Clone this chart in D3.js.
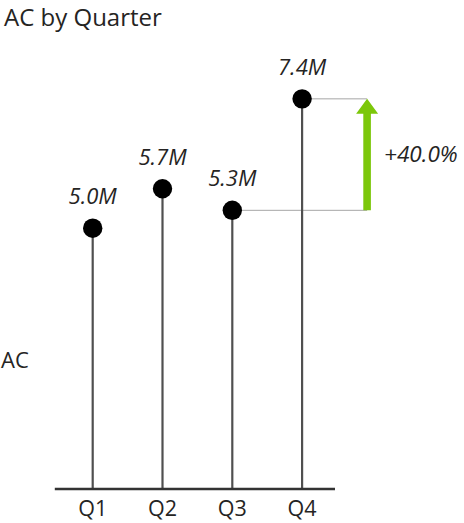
<!DOCTYPE html>
<html>
<head>
<meta charset="utf-8">
<script src="https://cdn.jsdelivr.net/npm/d3@7"></script>
<style>
    body { margin: 0; background: #fff; }
    svg { display: block; font-family: "Open Sans", "Noto Sans", sans-serif; }
</style>
</head>
<body>
<div id="chart"></div>
<script>
// chart data
const quarters = ['Q1', 'Q2', 'Q3', 'Q4'];
const acValues = [4.96, 5.71, 5.30, 7.42]; // in millions
const titleText = 'AC by Quarter';
const seriesName = 'AC';

const width = 464, height = 523;
const baseY = 489;

const svg = d3.select('#chart')
    .append('svg')
    .attr('width', width)
    .attr('height', height);

// X scale - one band per quarter
const xScale = d3.scaleBand()
    .domain(quarters)
    .range([57.8, 337]);

// Y scale - values in millions
const yScale = d3.scaleLinear()
    .domain([0, 9.3])
    .range([baseY, 0]);

const data = quarters.map((q, i) => ({ key: q, value: acValues[i] }));
const cx = d => xScale(d.key) + xScale.bandwidth() / 2;

// title
svg.append('text')
    .attr('x', 4)
    .attr('y', 26)
    .attr('font-size', 24)
    .attr('fill', '#252423')
    .text(titleText);

// series label on the left
svg.append('text')
    .attr('x', 1)
    .attr('y', 368)
    .attr('font-size', 22)
    .attr('fill', '#252423')
    .text(seriesName);

// variance between Q3 and Q4
const from = data[2], to = data[3];
const arrowX = cx(to) + 65;
const pct = (to.value - from.value) / from.value;

// thin connector lines from the two dots to the arrow
svg.selectAll('.connector')
    .data([from, to])
    .join('line')
    .attr('class', 'connector')
    .attr('x1', d => cx(d))
    .attr('x2', arrowX)
    .attr('y1', d => yScale(d.value))
    .attr('y2', d => yScale(d.value))
    .attr('stroke', '#a6a6a6')
    .attr('stroke-width', 1);

// stems
svg.selectAll('.stem')
    .data(data)
    .join('line')
    .attr('class', 'stem')
    .attr('x1', cx)
    .attr('x2', cx)
    .attr('y1', yScale(0))
    .attr('y2', d => yScale(d.value))
    .attr('stroke', '#505050')
    .attr('stroke-width', 2.2);

// x axis
const xAxis = svg.append('g')
    .attr('transform', `translate(0, ${baseY})`)
    .call(d3.axisBottom(xScale).tickSize(0).tickPadding(12));
xAxis.select('.domain')
    .attr('stroke', '#333')
    .attr('stroke-width', 2.5)
    .attr('d', `M${xScale.range()[0] - 3},0H${xScale.range()[1] - 2}`);
xAxis.selectAll('text')
    .attr('font-size', 21.5)
    .attr('font-family', '"Open Sans", "Noto Sans", sans-serif')
    .attr('fill', '#252423');

// dots
svg.selectAll('.dot')
    .data(data)
    .join('circle')
    .attr('class', 'dot')
    .attr('cx', cx)
    .attr('cy', d => yScale(d.value))
    .attr('r', 9.7)
    .attr('fill', '#000');

// value labels
svg.selectAll('.val')
    .data(data)
    .join('text')
    .attr('class', 'val')
    .attr('x', cx)
    .attr('y', d => yScale(d.value) - 24)
    .attr('text-anchor', 'middle')
    .attr('font-size', 22)
    .attr('font-style', 'italic')
    .attr('fill', '#252423')
    .text(d => d.value.toFixed(1) + 'M');

// green arrow
const yFrom = yScale(from.value), yTo = yScale(to.value);
const headH = 15, headW = 11, shaftW = 3.8;
svg.append('path')
    .attr('d', `M${arrowX - shaftW},${yFrom}
        V${yTo + headH} H${arrowX - headW}
        L${arrowX},${yTo} L${arrowX + headW},${yTo + headH}
        H${arrowX + shaftW} V${yFrom} Z`)
    .attr('fill', '#7cc70a');

// variance label
svg.append('text')
    .attr('x', arrowX + 17)
    .attr('y', (yFrom + yTo) / 2 + 7)
    .attr('font-size', 22.5)
    .attr('font-style', 'italic')
    .attr('fill', '#252423')
    .text((pct > 0 ? '+' : '') + d3.format('.1%')(pct));
</script>
</body>
</html>
